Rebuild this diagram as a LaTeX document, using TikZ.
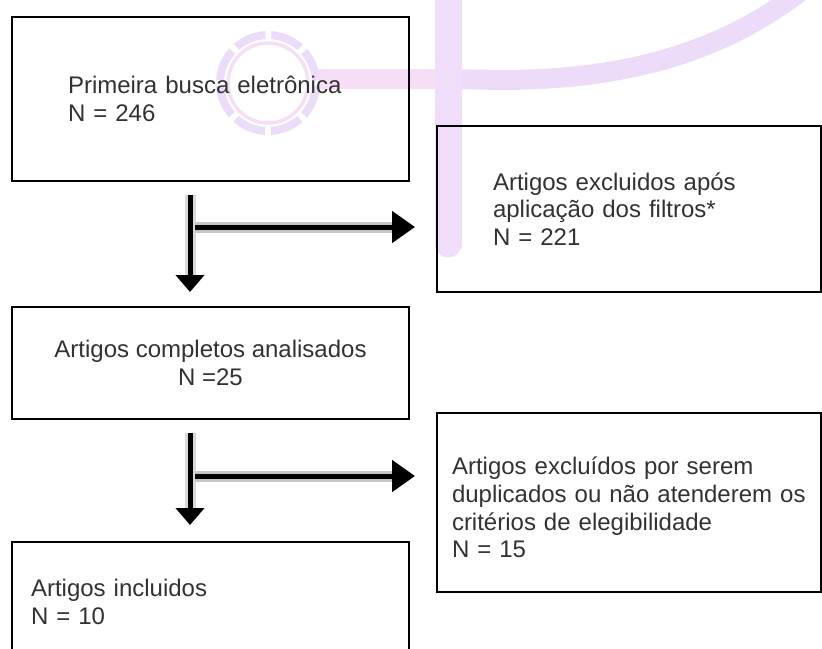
\documentclass[tikz,border=0pt]{standalone}
\usepackage{fontspec}
\setmainfont{Liberation Sans}
\usetikzlibrary{arrows.meta,calc}
\definecolor{wmA}{RGB}{236,220,250}
\definecolor{wmB}{RGB}{247,222,247}
\definecolor{wmC}{RGB}{239,221,249}
\definecolor{txtc}{RGB}{50,50,50}
\begin{document}
\begin{tikzpicture}[x=1pt,y=-1pt,
  box/.style={draw=black, line width=2pt, outer sep=0pt, inner ysep=0pt,
    font=\fontsize{24}{27.6}\selectfont, text=txtc},
  vline/.style={line width=5pt, black, -{Triangle[length=17pt,width=28pt]},
    preaction={draw=gray!30, line width=11pt, -, shorten >=32pt}},
  hline/.style={line width=5pt, black, -{Triangle[length=23pt,width=31pt]},
    preaction={draw=gray!45, line width=11pt, -, shorten >=45pt}}
]
\clip (0,0) rectangle (822,648);
% faint watermark in the background
\draw[wmB, line width=3.5pt] (268,83) circle[radius=40];
\draw[wmA, line width=8pt, dash pattern=on 32pt off 5.75pt, dash phase=34.9pt] (268,83) circle[radius=48];
\draw[wmB, line width=20pt] (318,79) -- (448,79);
\draw[wmA, line width=20pt] (446,79) -- (500,80) .. controls (620,80) and (720,55) .. (805,-12);
\draw[wmC, line width=27pt, line cap=round] (448,-20) -- (448,244);
% boxes
\node[box, minimum width=397pt, minimum height=164pt, text width=285pt, inner xsep=56pt, align=left]
  (b1) at (210.5,99) {Primeira busca eletrônica\\N = 246};
\node[box, minimum height=166pt, text width=272pt, inner xsep=56pt, align=left]
  (b2) at (629,209) {Artigos excluidos após\\aplicação dos filtros*\\N = 221};
\node[box, minimum width=397pt, minimum height=112pt, align=center]
  (b3) at (210.5,363) {Artigos completos analisados\\N =25};
\node[box, minimum height=179pt, text width=354pt, inner xsep=15pt, align=left]
  (b4) at (629,502.5) {\rule{0pt}{28pt}Artigos excluídos por serem\\duplicados ou não atenderem os\\critérios de elegibilidade\\N = 15};
\node[box, minimum height=120pt, text width=359pt, inner xsep=19pt, align=left]
  (b5) at (210.5,602) {Artigos incluidos\\N = 10};
% connectors
\coordinate (c) at (190,0);
\coordinate (j1) at (190,227);
\coordinate (j2) at (190,476);
\draw[vline, shorten <=14pt, shorten >=15pt] (b1.south -| c) -- (b3.north -| c);
\draw[hline, shorten <=5pt, shorten >=22pt] (j1) -- (j1 -| b2.west);
\draw[vline, shorten <=14pt, shorten >=17pt] (b3.south -| c) -- (b5.north -| c);
\draw[hline, shorten <=5pt, shorten >=22pt] (j2) -- (j2 -| b4.west);
\end{tikzpicture}
\end{document}
